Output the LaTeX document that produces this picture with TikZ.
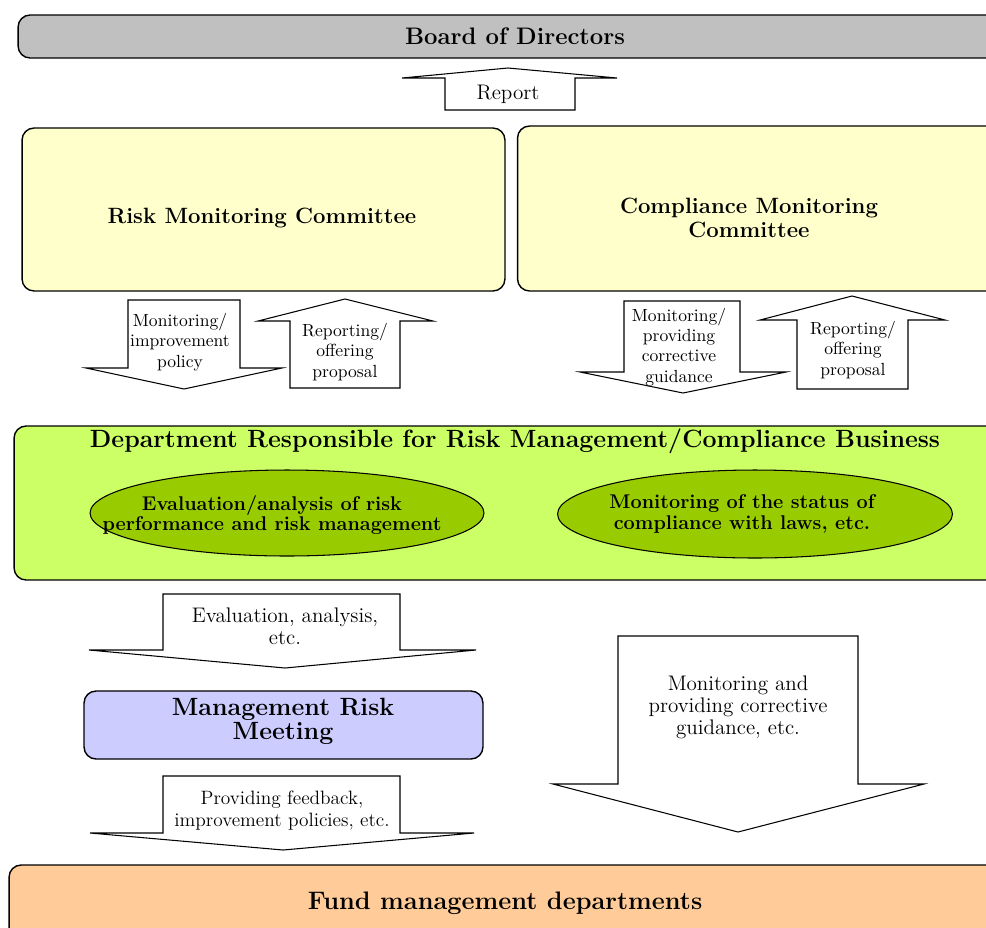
\documentclass[tikz,border=0pt]{standalone}
\usetikzlibrary{shapes.geometric}

\definecolor{boardgray}{RGB}{192,192,192}
\definecolor{cmtyellow}{RGB}{255,255,204}
\definecolor{deptgreen}{RGB}{204,255,102}
\definecolor{ovalgreen}{RGB}{153,204,0}
\definecolor{meetblue}{RGB}{204,204,255}
\definecolor{fundorange}{RGB}{255,204,153}

\begin{document}
\begin{tikzpicture}[x=0.02cm, y=-0.02cm,
    box/.style={draw, line width=0.8pt, rounded corners=2.4mm, inner sep=0pt},
    oval/.style={draw, ellipse, fill=ovalgreen, line width=0.6pt, inner sep=0pt},
    ovaltext/.style={align=center, font=\fontsize{11.3}{11.8}\selectfont\bfseries},
    blockarrow/.style={draw, fill=white, line width=0.6pt, line join=miter},
    smalltext/.style={align=center, font=\fontsize{10}{11.5}\selectfont},
    arrowtext/.style={align=center, font=\fontsize{12}{12.5}\selectfont},
    headtext/.style={align=center, font=\fontsize{12.6}{13.5}\selectfont\bfseries}]

    \useasboundingbox (0,0) rectangle (986,927);
    \clip (0,0) rectangle (986,927);

    % boxes
    \node[box, fill=boardgray, minimum width=19.88cm, minimum height=0.86cm] (board) at (515,36.5) {};
    \node[headtext, font=\fontsize{13.6}{14}\selectfont\bfseries] (boardtext) at (515,36) {Board of Directors};

    \node[box, fill=cmtyellow, minimum width=9.66cm, minimum height=3.26cm] (rmc) at (263.5,209.5) {};
    \node[headtext] (rmctext) at (262,218) {Risk Monitoring Committee};

    \node[box, fill=cmtyellow, minimum width=9.7cm, minimum height=3.3cm] (cmc) at (760,208.5) {};
    \node[headtext] (cmctext) at (749,218) {Compliance Monitoring\\Committee};

    \node[box, fill=deptgreen, minimum width=19.72cm, minimum height=3.08cm] (dept) at (507,503) {};
    \node[font=\fontsize{14.2}{15}\selectfont\bfseries] (depttext) at (515,441)
        {Department Responsible for Risk Management/Compliance Business};

    \node[oval, minimum width=7.88cm, minimum height=1.72cm] (riskeval) at (287,513) {};
    \node[ovaltext] (riskevaltext) at (272,515) {Evaluation/analysis of risk\\performance and risk management};
    \node[oval, minimum width=7.9cm, minimum height=1.76cm] (lawcheck) at (755,514) {};
    \node[ovaltext] (lawchecktext) at (742,514) {Monitoring of the status of\\compliance with laws, etc.};

    \node[box, fill=meetblue, minimum width=7.98cm, minimum height=1.36cm] (meeting) at (283.5,725) {};
    \node[font=\fontsize{14.2}{12.5}\selectfont\bfseries, align=center] (meetingtext) at (283,721)
        {Management Risk\\Meeting};

    \node[box, fill=fundorange, minimum width=19.82cm, minimum height=1.5cm] (fund) at (504.5,902.5) {};
    \node[font=\fontsize{14.4}{15}\selectfont\bfseries] (fundtext) at (505,903) {Fund management departments};

    % block arrows
    \draw[blockarrow] (445,110) -- (445,78) -- (402,78) -- (508,68) -- (617,78) -- (575,78) -- (575,110) -- cycle;
    \node[arrowtext] (report) at (508,94) {Report};

    \draw[blockarrow] (128,300) -- (240,300) -- (240,368) -- (282,368) -- (184,389) -- (86,368) -- (128,368) -- cycle;
    \node[smalltext] (rmcdown) at (180,342) {Monitoring/\\improvement\\policy};

    \draw[blockarrow] (290,388) -- (290,321) -- (258,321) -- (345,299) -- (433,321) -- (400,321) -- (400,388) -- cycle;
    \node[smalltext] (rmcup) at (345,352) {Reporting/\\offering\\proposal};

    \draw[blockarrow] (624,301) -- (740,301) -- (740,372) -- (786,372) -- (683,393) -- (580,372) -- (624,372) -- cycle;
    \node[smalltext] (cmcdown) at (679,347) {Monitoring/\\providing\\corrective\\guidance};

    \draw[blockarrow] (797,389) -- (797,320) -- (760,320) -- (852,296) -- (945,320) -- (908,320) -- (908,389) -- cycle;
    \node[smalltext] (cmcup) at (853,350) {Reporting/\\offering\\proposal};

    \draw[blockarrow] (163,594) -- (400,594) -- (400,650) -- (476,650) -- (285,668) -- (89,650) -- (163,650) -- cycle;
    \node[arrowtext] (evaldown) at (285,626) {Evaluation, analysis,\\etc.};

    \draw[blockarrow] (163,776) -- (400,776) -- (400,833) -- (474,833) -- (283,850) -- (90,833) -- (163,833) -- cycle;
    \node[smalltext, font=\fontsize{11}{12.5}\selectfont] (feedback) at (282,811)
        {Providing feedback,\\improvement policies, etc.};

    \draw[blockarrow] (618,636) -- (858,636) -- (858,784) -- (924,784) -- (738,832) -- (553,784) -- (618,784) -- cycle;
    \node[arrowtext] (guidance) at (738,707) {Monitoring and\\providing corrective\\guidance, etc.};

\end{tikzpicture}
\end{document}
